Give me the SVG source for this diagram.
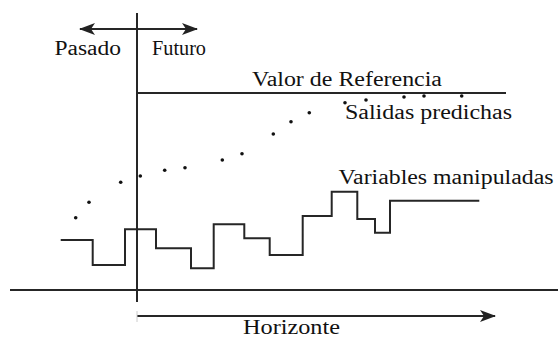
<svg xmlns="http://www.w3.org/2000/svg" width="558" height="344" viewBox="0 0 558 344">
<defs>
<style>
.ln{stroke:#262626;stroke-width:2;fill:none}
.t{font-size:20px;fill:#111}
.dot{fill:#111}
</style>
<marker id="ah" viewBox="0 0 16 12" refX="15" refY="6" markerWidth="16" markerHeight="12" markerUnits="userSpaceOnUse" orient="auto-start-reverse">
<path d="M0,0 L16,6 L0,12 L4,6 Z" fill="#222"/>
</marker>
</defs>
<rect width="558" height="344" fill="#fff"/>
<g id="connectors">
<line class="ln" x1="137" y1="13" x2="137" y2="302"/>
<line class="ln" x1="80" y1="29" x2="197" y2="29" marker-start="url(#ah)" marker-end="url(#ah)"/>
<line class="ln" x1="10" y1="290" x2="558" y2="290"/>
<line class="ln" x1="137" y1="316" x2="495" y2="316" marker-end="url(#ah)"/>
<line x1="137" y1="311" x2="137" y2="322" stroke="#ccc" stroke-width="1"/>
</g>
<g font-family="'Liberation Serif', 'Times New Roman', serif">
<g id="referencia">
<line class="ln" x1="137" y1="93" x2="506" y2="93"/>
<text class="t" x="252" y="86" textLength="190" lengthAdjust="spacingAndGlyphs">Valor de Referencia</text>
</g>
<g id="salidas">
<circle class="dot" cx="75.7" cy="217.7" r="1.8"/>
<circle class="dot" cx="89" cy="202.3" r="1.8"/>
<circle class="dot" cx="120.7" cy="182.3" r="1.8"/>
<circle class="dot" cx="140.3" cy="176" r="1.8"/>
<circle class="dot" cx="164.7" cy="170.3" r="1.8"/>
<circle class="dot" cx="185" cy="167.7" r="1.8"/>
<circle class="dot" cx="222.3" cy="160" r="1.8"/>
<circle class="dot" cx="242" cy="153.7" r="1.8"/>
<circle class="dot" cx="273.3" cy="134" r="1.8"/>
<circle class="dot" cx="291" cy="121.7" r="1.8"/>
<circle class="dot" cx="309.3" cy="112.7" r="1.8"/>
<circle class="dot" cx="345" cy="102.7" r="1.8"/>
<circle class="dot" cx="366" cy="100" r="1.8"/>
<circle class="dot" cx="404" cy="97" r="1.8"/>
<circle class="dot" cx="424" cy="96" r="1.8"/>
<circle class="dot" cx="461.7" cy="96" r="1.8"/>
<text class="t" x="345" y="118.5" textLength="167" lengthAdjust="spacingAndGlyphs">Salidas predichas</text>
</g>
<g id="variables">
<polyline class="ln" points="60.7,240 92.7,240 92.7,265 125,265 125,229.3 156,229.3 156,248.3 191,248.3 191,268.3 213.7,268.3 213.7,224.3 244.3,224.3 244.3,238.3 269.7,238.3 269.7,255 302.7,255 302.7,216 331.7,216 331.7,191.7 357.3,191.7 357.3,219 375,219 375,232.7 390,232.7 390,200.7 479.3,200.7"/>
<text class="t" x="338.5" y="184.3" textLength="215" lengthAdjust="spacingAndGlyphs">Variables manipuladas</text>
</g>
<g id="labels">
<text class="t" x="54.5" y="55" textLength="66.5" lengthAdjust="spacingAndGlyphs">Pasado</text>
<text class="t" x="152" y="55" textLength="54" lengthAdjust="spacingAndGlyphs">Futuro</text>
<text class="t" x="243" y="333.5" textLength="97" lengthAdjust="spacingAndGlyphs">Horizonte</text>
</g>
</g>
</svg>
